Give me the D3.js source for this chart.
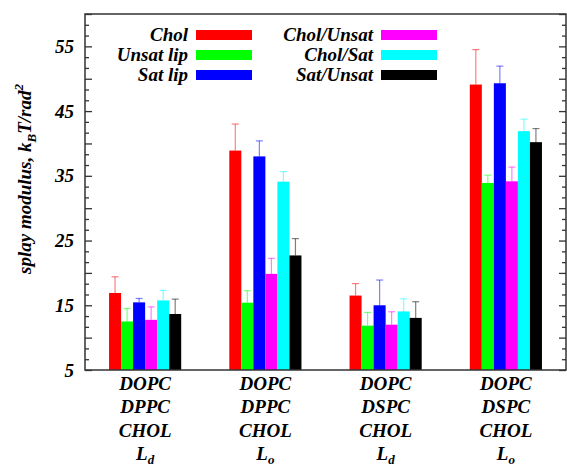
<!DOCTYPE html>
<html>
<head>
<meta charset="utf-8">
<script src="https://cdn.jsdelivr.net/npm/d3@7"></script>
<style>
  body { margin: 0; background: #fff; }
  .axis path, .axis line { stroke: #333; }
</style>
</head>
<body>
<div id="chart"></div>
<script>
// chart data
var categories = ["DOPC/DPPC Ld", "DOPC/DPPC Lo", "DOPC/DSPC Ld", "DOPC/DSPC Lo"];
var catLines = [
    ["DOPC", "DPPC", "CHOL", "L", "d"],
    ["DOPC", "DPPC", "CHOL", "L", "o"],
    ["DOPC", "DSPC", "CHOL", "L", "d"],
    ["DOPC", "DSPC", "CHOL", "L", "o"]
];
var seriesNames = ["Chol", "Unsat lip", "Sat lip", "Chol/Unsat", "Chol/Sat", "Sat/Unsat"];
var seriesColors = ["#ff0000", "#00ff00", "#0000ff", "#ff00ff", "#00ffff", "#000000"];

var cholVals = [16.9, 38.9, 16.5, 49.1];
var unsatVals = [12.5, 15.4, 11.85, 33.9];
var satVals = [15.45, 38.0, 15.0, 49.3];
var cholUnsatVals = [12.75, 19.85, 12.0, 34.15];
var cholSatVals = [15.75, 34.1, 14.05, 41.9];
var satUnsatVals = [13.65, 22.7, 13.05, 40.2];

var cholErr = [2.5, 4.1, 1.85, 5.4];
var unsatErr = [2.0, 1.85, 2.05, 1.2];
var satErr = [0.6, 2.4, 3.9, 2.65];
var cholUnsatErr = [2.0, 2.4, 2.0, 2.2];
var cholSatErr = [1.55, 1.55, 1.95, 1.85];
var satUnsatErr = [2.3, 2.6, 2.5, 2.1];

var allVals = [cholVals, unsatVals, satVals, cholUnsatVals, cholSatVals, satUnsatVals];
var allErr = [cholErr, unsatErr, satErr, cholUnsatErr, cholSatErr, satUnsatErr];

var yMin = 5, yMax = 60;
var yLabelTicks = [5, 15, 25, 35, 45, 55];

// svg
var width = 567, height = 464;
var plotL = 85, plotR = 566, plotT = 14, plotB = 370;
var serif = "'Liberation Serif', 'Times New Roman', serif";

var svg = d3.select("#chart").append("svg")
    .attr("width", width)
    .attr("height", height);

// scales
var xScale = d3.scaleBand().domain(categories).range([plotL, plotR]);
var bw = xScale.bandwidth();
var xInner = d3.scaleBand().domain(seriesNames).range([bw * 0.2, bw * 0.8]);
var yScale = d3.scaleLinear().domain([yMin, yMax]).range([plotB, plotT]);

// flatten bar records
var bars = [];
seriesNames.forEach(function(s, i) {
    categories.forEach(function(c, j) {
        bars.push({cat: c, series: s, color: seriesColors[i], value: allVals[i][j], err: allErr[i][j]});
    });
});

function barMid(d) { return xScale(d.cat) + xInner(d.series) + xInner.bandwidth() / 2; }

// bars
svg.append("g").selectAll("rect").data(bars).enter()
    .append("rect")
    .attr("x", function(d) { return xScale(d.cat) + xInner(d.series); })
    .attr("y", function(d) { return yScale(d.value); })
    .attr("width", xInner.bandwidth())
    .attr("height", function(d) { return yScale(yMin) - yScale(d.value); })
    .attr("fill", function(d) { return d.color; });

// error bars (upper only)
var errG = svg.append("g").selectAll("g").data(bars).enter().append("g")
    .attr("stroke", function(d) { return d.color; })
    .attr("stroke-opacity", 0.5)
    .attr("stroke-width", 1.2);
errG.append("line")
    .attr("x1", barMid)
    .attr("x2", barMid)
    .attr("y1", function(d) { return yScale(d.value); })
    .attr("y2", function(d) { return yScale(d.value + d.err); });
errG.append("line")
    .attr("x1", function(d) { return barMid(d) - 3.5; })
    .attr("x2", function(d) { return barMid(d) + 3.5; })
    .attr("y1", function(d) { return yScale(d.value + d.err); })
    .attr("y2", function(d) { return yScale(d.value + d.err); });

// ticks: major every 5, minor every 5/3
var majorTicks = d3.range(yMin, yMax + 0.01, 5);
var minorTicks = d3.range(0, 34).map(function(k) { return yMin + k * 5 / 3; })
    .filter(function(v) { return Math.abs(v / 5 - Math.round(v / 5)) > 0.01; });

function addAxis(axisFn, x, values, size, labels) {
    var ax = axisFn(yScale).tickValues(values).tickSize(size).tickSizeOuter(0)
        .tickPadding(11)
        .tickFormat(function(d) { return labels && yLabelTicks.indexOf(d) >= 0 ? d : ""; });
    var g = svg.append("g").attr("class", "axis")
        .attr("transform", "translate(" + x + ",0)")
        .call(ax);
    g.select(".domain").remove();
    g.selectAll("line").attr("stroke-width", 1.3);
    g.selectAll("text").attr("font-size", 19).attr("fill", "#000");
}
addAxis(d3.axisLeft, plotL, majorTicks, -7, true);
addAxis(d3.axisLeft, plotL, minorTicks, -4, false);
addAxis(d3.axisRight, plotR, majorTicks, -7, false);
addAxis(d3.axisRight, plotR, minorTicks, -4, false);

// frame
svg.append("rect")
    .attr("x", plotL).attr("y", plotT)
    .attr("width", plotR - plotL).attr("height", plotB - plotT)
    .attr("fill", "none").attr("stroke", "#333").attr("stroke-width", 1.5);

// x labels
var xl = svg.append("g").selectAll("g").data(categories).enter().append("g")
    .attr("transform", function(d) { return "translate(" + (xScale(d) + bw / 2) + ",0)"; });
[390, 413, 437].forEach(function(yy, li) {
    xl.append("text")
        .attr("y", yy)
        .attr("text-anchor", "middle")
        .attr("font-size", 19)
        .text(function(d, i) { return catLines[i][li]; });
});
var sub = xl.append("text")
    .attr("y", 460)
    .attr("text-anchor", "middle")
    .attr("font-size", 19);
sub.append("tspan").text(function(d, i) { return catLines[i][3]; });
sub.append("tspan").attr("dy", 4).attr("font-size", 13).text(function(d, i) { return catLines[i][4]; });

// y label
var yl = svg.append("text")
    .attr("transform", "translate(31,179) rotate(-90)")
    .attr("text-anchor", "middle")
    .attr("font-size", 19);
yl.append("tspan").text("splay modulus, k");
yl.append("tspan").attr("dy", 5).attr("font-size", 13).text("B");
yl.append("tspan").attr("dy", -5).text("T/rad");
yl.append("tspan").attr("dy", -8).attr("font-size", 13).text("2");

// legend
var legend = svg.append("g").selectAll("g").data(seriesNames).enter().append("g")
    .attr("transform", function(d, i) {
        var col = Math.floor(i / 3), row = i % 3;
        return "translate(" + (col === 0 ? 188 : 373) + "," + (30 + row * 20) + ")";
    });
legend.append("text")
    .attr("y", 11)
    .attr("text-anchor", "end")
    .attr("font-size", 19)
    .text(function(d) { return d; });
legend.append("rect")
    .attr("x", 8).attr("y", 0)
    .attr("width", 56).attr("height", 10)
    .attr("fill", function(d, i) { return seriesColors[i]; });

// one serif bold italic face for every text
svg.selectAll("text")
    .style("font-family", serif)
    .style("font-weight", "bold")
    .style("font-style", "italic")
    .style("fill", "#000");
</script>
</body>
</html>
